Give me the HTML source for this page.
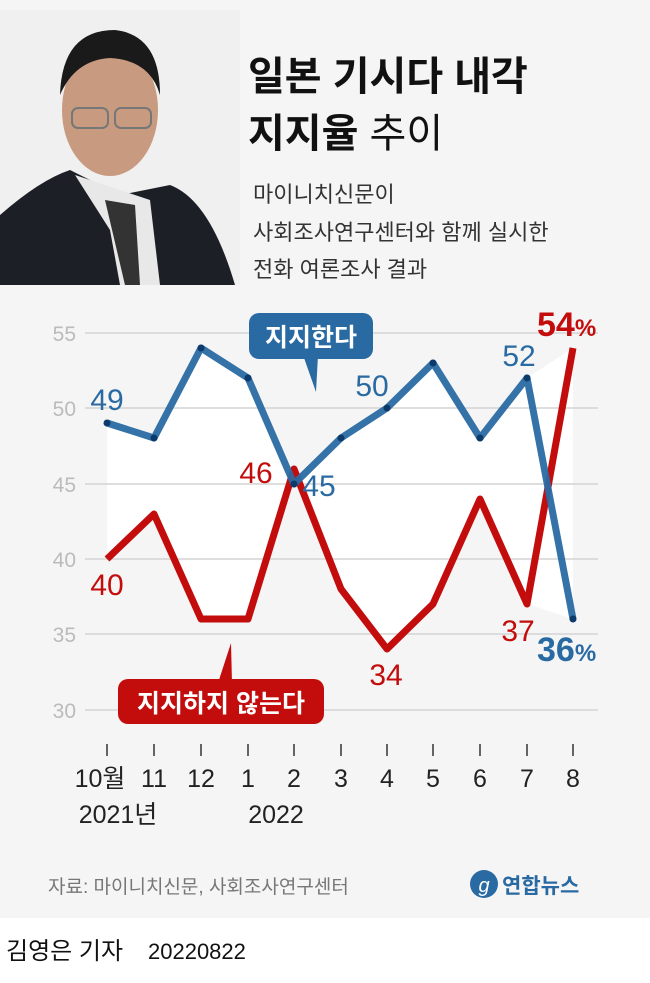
<!DOCTYPE html>
<html><head><meta charset="utf-8"><style>
body{margin:0;width:650px;height:983px;overflow:hidden;background:#f5f5f5;font-family:"Liberation Sans","Noto Sans CJK KR",sans-serif}
svg{position:absolute;left:0;top:0}
</style></head><body>
<svg width="650" height="983" viewBox="0 0 650 983" font-family="Liberation Sans, Noto Sans CJK KR, sans-serif">
<rect width="650" height="983" fill="#f5f5f5"/>
<g>
<rect x="0" y="10" width="240" height="275" fill="#f0f0f0"/>
<path d="M0 285 L0 215 Q40 180 70 170 L120 195 L170 185 Q210 200 235 285 Z" fill="#1d1f26"/>
<path d="M75 175 L110 230 L120 285 L160 285 L150 200 Z" fill="#e8e8e8"/>
<path d="M105 200 L125 285 L140 285 L135 205 Z" fill="#333"/>
<ellipse cx="110" cy="110" rx="48" ry="66" fill="#c89a80"/>
<path d="M60 95 Q62 30 115 30 Q160 35 160 95 Q150 60 110 58 Q75 60 60 95Z" fill="#1a1a1a"/>
<rect x="72" y="108" width="36" height="20" rx="6" fill="none" stroke="#777" stroke-width="2"/>
<rect x="115" y="108" width="36" height="20" rx="6" fill="none" stroke="#777" stroke-width="2"/>
</g>
<text x="248" y="90" font-size="40" font-weight="bold" fill="#111">일본 기시다 내각</text>
<text x="248" y="147" font-size="40" font-weight="bold" fill="#111">지지율<tspan font-weight="normal"> 추이</tspan></text>
<text x="253" y="202" font-size="22" fill="#333">마이니치신문이</text>
<text x="253" y="240" font-size="22" fill="#333">사회조사연구센터와 함께 실시한</text>
<text x="253" y="277" font-size="22" fill="#333">전화 여론조사 결과</text>
<polygon fill="#fff" points="107,423 154,438 201,348 248,378 294,484 341,438 387,408 433,363 480,438 527,378 573,348 573,619 527,604 480,499 433,604 387,649 341,589 294,469 248,619 201,619 154,514 107,559"/>
<g stroke="#d4d4d4" stroke-width="1.5">
<line x1="85" x2="598" y1="333" y2="333"/><line x1="85" x2="598" y1="408" y2="408"/><line x1="85" x2="598" y1="484" y2="484"/><line x1="85" x2="598" y1="559" y2="559"/><line x1="85" x2="598" y1="634" y2="634"/><line x1="85" x2="598" y1="710" y2="710"/>
</g>
<g font-size="21" fill="#bbb" text-anchor="end">
<text x="76" y="341">55</text><text x="76" y="416">50</text><text x="76" y="492">45</text><text x="76" y="567">40</text><text x="76" y="642">35</text><text x="76" y="718">30</text>
</g>
<polyline fill="none" stroke="#c30d0d" stroke-width="7" stroke-linejoin="round" points="107,559 154,514 201,619 248,619 294,469 341,589 387,649 433,604 480,499 527,604 573,348"/>
<polyline fill="none" stroke="#2a6aa3" stroke-width="7" stroke-linejoin="round" points="107,423 154,438 201,348 248,378 294,484 341,438 387,408 433,363 480,438 527,378 573,619" opacity="0.95"/>
<g fill="#0b3a6b">
<circle cx="107" cy="423" r="3.5"/><circle cx="154" cy="438" r="3.5"/><circle cx="201" cy="348" r="3.5"/><circle cx="248" cy="378" r="3.5"/><circle cx="294" cy="484" r="3.5"/><circle cx="341" cy="438" r="3.5"/><circle cx="387" cy="408" r="3.5"/><circle cx="433" cy="363" r="3.5"/><circle cx="480" cy="438" r="3.5"/><circle cx="527" cy="378" r="3.5"/><circle cx="573" cy="619" r="3.5"/>
</g>
<rect x="249" y="313" width="124" height="46" rx="10" fill="#2a6aa3"/>
<polygon points="303,355 318,355 316,392" fill="#2a6aa3"/>
<text x="311" y="346" font-size="25" font-weight="bold" fill="#fff" text-anchor="middle">지지한다</text>
<rect x="118" y="679" width="206" height="45" rx="10" fill="#c30d0d"/>
<polygon points="218,683 232,683 231,643" fill="#c30d0d"/>
<text x="221" y="712" font-size="25" font-weight="bold" fill="#fff" text-anchor="middle">지지하지 않는다</text>
<g font-size="30">
<text x="107" y="410" fill="#2a6aa3" text-anchor="middle">49</text>
<text x="319" y="496" fill="#2a6aa3" text-anchor="middle">45</text>
<text x="372" y="396" fill="#2a6aa3" text-anchor="middle">50</text>
<text x="519" y="366" fill="#2a6aa3" text-anchor="middle">52</text>
<text x="107" y="595" fill="#c30d0d" text-anchor="middle">40</text>
<text x="256" y="483" fill="#c30d0d" text-anchor="middle">46</text>
<text x="386" y="685" fill="#c30d0d" text-anchor="middle">34</text>
<text x="518" y="641" fill="#c30d0d" text-anchor="middle">37</text>
</g>
<text x="537" y="336" font-size="34" font-weight="bold" fill="#c30d0d">54<tspan font-size="24">%</tspan></text>
<text x="537" y="661" font-size="34" font-weight="bold" fill="#2a6aa3">36<tspan font-size="24">%</tspan></text>
<g stroke="#333" stroke-width="1.5">
<line x1="107" x2="107" y1="744" y2="756"/><line x1="154" x2="154" y1="744" y2="756"/><line x1="201" x2="201" y1="744" y2="756"/><line x1="248" x2="248" y1="744" y2="756"/><line x1="294" x2="294" y1="744" y2="756"/><line x1="341" x2="341" y1="744" y2="756"/><line x1="387" x2="387" y1="744" y2="756"/><line x1="433" x2="433" y1="744" y2="756"/><line x1="480" x2="480" y1="744" y2="756"/><line x1="527" x2="527" y1="744" y2="756"/><line x1="573" x2="573" y1="744" y2="756"/>
</g>
<g font-size="25" fill="#222" text-anchor="middle">
<text x="100" y="787">10월</text><text x="154" y="787">11</text><text x="201" y="787">12</text><text x="248" y="787">1</text><text x="294" y="787">2</text><text x="341" y="787">3</text><text x="387" y="787">4</text><text x="433" y="787">5</text><text x="480" y="787">6</text><text x="527" y="787">7</text><text x="573" y="787">8</text>
<text x="118" y="823">2021년</text><text x="276" y="823">2022</text>
</g>
<text x="48" y="893" font-size="19" fill="#777">자료: 마이니치신문, 사회조사연구센터</text>
<circle cx="484" cy="884" r="14" fill="#2a6aa3"/>
<text x="484" y="892" font-size="20" font-style="italic" fill="#fff" text-anchor="middle">g</text>
<text x="502" y="893" font-size="21" font-weight="bold" fill="#2a6aa3">연합뉴스</text>
<rect x="0" y="918" width="650" height="65" fill="#fff"/>
<text x="6" y="959" font-size="24" fill="#111">김영은 기자</text>
<text x="148" y="959" font-size="22" fill="#111">20220822</text>
</svg>
</body></html>
